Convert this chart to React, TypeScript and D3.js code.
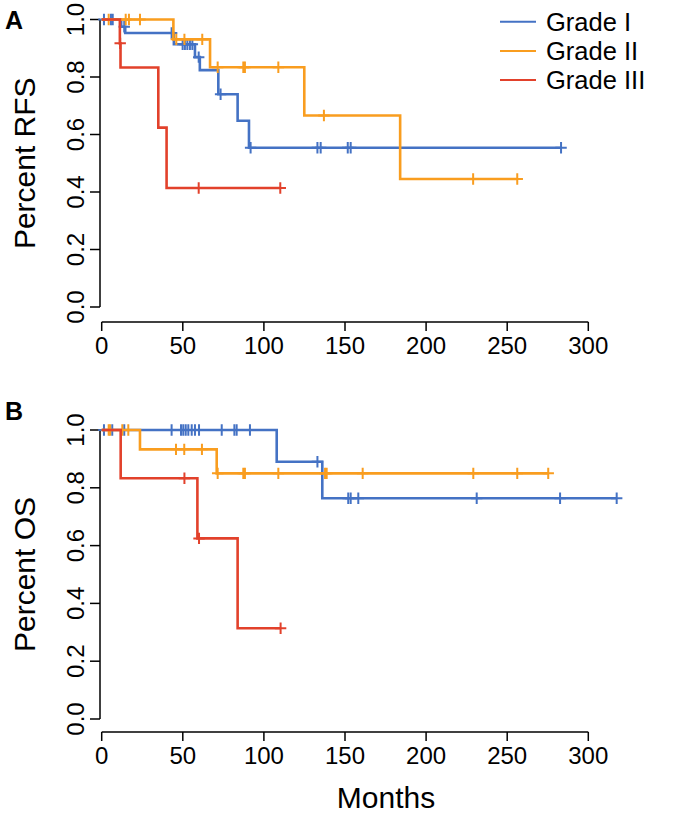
import React from "react";
import * as d3 from "d3";

const gradeNames = ["Grade I", "Grade II", "Grade III"];
const gradeColors = ["#4472C4", "#F99D1F", "#E2412B"];
const xTicks = [0, 50, 100, 150, 200, 250, 300];
const yTicks = [0, 0.2, 0.4, 0.6, 0.8, 1.0];

// Panel A: RFS
const rfsG1Times = [0, 12.0, 14.5, 44.5, 57.5, 60.5, 71.9, 83.8, 90.8];
const rfsG1Surv = [1, 0.975, 0.953, 0.914, 0.869, 0.824, 0.74, 0.648, 0.554];
const rfsG1End = 283.2;
const rfsG1Cens = [1.4, 5.7, 6.8, 13.9, 43.1, 49.9, 51.3, 52.8, 54.4, 55.9, 59.8, 73.3, 91.8, 133, 135, 151.7, 153.5, 283.2];

const rfsG2Times = [0, 44.2, 66.8, 124.9, 184];
const rfsG2Surv = [1, 0.931, 0.834, 0.666, 0.445];
const rfsG2End = 256.2;
const rfsG2Cens = [4.3, 14.8, 16.8, 23.6, 46, 51, 62, 71.5, 87.3, 88.3, 108.9, 137, 229, 256.2];

const rfsG3Times = [0, 11.2, 11.6, 34.9, 40];
const rfsG3Surv = [1, 0.917, 0.833, 0.624, 0.414];
const rfsG3End = 110.1;
const rfsG3Cens = [11.4, 59.8, 110.1];

// Panel B: OS
const osG1Times = [0, 107.9, 136];
const osG1Surv = [1, 0.89, 0.764];
const osG1End = 317.5;
const osG1Cens = [1.4, 6.5, 13.9, 43.1, 48.9, 50.3, 51.8, 53.4, 55.5, 57.5, 60, 74, 81.8, 83.2, 91.4, 133, 152, 153.5, 158.2, 231.2, 282.6, 317.5];

const osG2Times = [0, 23.6, 70.9];
const osG2Surv = [1, 0.933, 0.85];
const osG2End = 275.3;
const osG2Cens = [4.3, 5.2, 12.7, 16.4, 45.8, 50.9, 61.8, 71.5, 87.3, 88.3, 108.9, 137.7, 138.7, 160.9, 229.1, 256.2, 275.3];

const osG3Times = [0, 11.7, 59, 83.8];
const osG3Surv = [1, 0.833, 0.625, 0.314];
const osG3End = 110.3;
const osG3Cens = [51, 60, 110.3];

type Curve = { times: number[]; surv: number[]; end: number; cens: number[] };

const rfsCurves: Curve[] = [
  { times: rfsG1Times, surv: rfsG1Surv, end: rfsG1End, cens: rfsG1Cens },
  { times: rfsG2Times, surv: rfsG2Surv, end: rfsG2End, cens: rfsG2Cens },
  { times: rfsG3Times, surv: rfsG3Surv, end: rfsG3End, cens: rfsG3Cens },
];
const osCurves: Curve[] = [
  { times: osG1Times, surv: osG1Surv, end: osG1End, cens: osG1Cens },
  { times: osG2Times, surv: osG2Surv, end: osG2End, cens: osG2Cens },
  { times: osG3Times, surv: osG3Surv, end: osG3End, cens: osG3Cens },
];

const FONT = "'Liberation Sans', Arial, Helvetica, sans-serif";

function survAt(c: Curve, t: number) {
  let s = c.surv[0];
  for (let i = 0; i < c.times.length; i++) if (c.times[i] <= t) s = c.surv[i];
  return s;
}

const x = d3.scaleLinear().domain([0, 300]).range([101.7, 588.3]);

function Panel({ curves, y0, y1, xAxisY, label, letter, letterY }: any) {
  const y = d3.scaleLinear().domain([0, 1]).range([y0, y1]);
  const line = d3
    .line<[number, number]>()
    .x((d) => x(d[0]))
    .y((d) => y(d[1]))
    .curve(d3.curveStepAfter);
  const axX = 100;
  const cs = 5.7;
  return (
    <g>
      <text x={5} y={letterY} fontFamily={FONT} fontWeight="bold" fontSize={25}>
        {letter}
      </text>
      {/* y axis */}
      <line x1={axX} x2={axX} y1={y(0)} y2={y(1)} stroke="#000" strokeWidth={1.5} />
      {yTicks.map((t) => (
        <g key={t}>
          <line x1={axX - 10} x2={axX} y1={y(t)} y2={y(t)} stroke="#000" strokeWidth={1.5} />
          <text
            transform={`translate(${83.5},${y(t)}) rotate(-90)`}
            textAnchor="middle"
            fontFamily={FONT}
            fontSize={24}
          >
            {t.toFixed(1)}
          </text>
        </g>
      ))}
      <text
        transform={`translate(${35},${(y(0) + y(1)) / 2}) rotate(-90)`}
        textAnchor="middle"
        fontFamily={FONT}
        fontSize={30}
      >
        {label}
      </text>
      {/* x axis */}
      <line x1={x(0)} x2={x(300)} y1={xAxisY} y2={xAxisY} stroke="#000" strokeWidth={1.5} />
      {xTicks.map((t) => (
        <g key={t}>
          <line x1={x(t)} x2={x(t)} y1={xAxisY} y2={xAxisY + 9} stroke="#000" strokeWidth={1.5} />
          <text x={x(t)} y={xAxisY + 32} textAnchor="middle" fontFamily={FONT} fontSize={24}>
            {t}
          </text>
        </g>
      ))}
      {/* curves */}
      {curves.map((c: Curve, i: number) => {
        const pts: [number, number][] = c.times.map((t, k) => [t, c.surv[k]]);
        pts.push([c.end, c.surv[c.surv.length - 1]]);
        return (
          <g key={i}>
            <path d={line(pts) || ""} fill="none" stroke={gradeColors[i]} strokeWidth={2.6} />
            {c.cens.map((t, k) => {
              const cx = x(t);
              const cy = y(survAt(c, t));
              return (
                <path
                  key={k}
                  d={`M${cx - cs},${cy}H${cx + cs}M${cx},${cy - cs}V${cy + cs}`}
                  stroke={gradeColors[i]}
                  strokeWidth={2}
                  fill="none"
                />
              );
            })}
          </g>
        );
      })}
    </g>
  );
}

export default function App() {
  return (
    <svg
      width={676}
      height={813}
      style={{ position: "absolute", left: 0, top: 0, background: "#fff" }}
    >
      <rect width={676} height={813} fill="#fff" />
      <Panel curves={rfsCurves} y0={307} y1={19.5} xAxisY={322} label="Percent RFS" letter="A" letterY={29} />
      <Panel curves={osCurves} y0={719} y1={430} xAxisY={732} label="Percent OS" letter="B" letterY={420} />
      {/* legend */}
      {gradeNames.map((g, i) => (
        <g key={g}>
          <line x1={500} x2={536} y1={21.7 + i * 29.2} y2={21.7 + i * 29.2} stroke={gradeColors[i]} strokeWidth={2} />
          <text x={546} y={21.7 + i * 29.2 + 9} fontFamily={FONT} fontSize={25.5}>
            {g}
          </text>
        </g>
      ))}
      <text x={386} y={808} textAnchor="middle" fontFamily={FONT} fontSize={30}>
        Months
      </text>
    </svg>
  );
}
